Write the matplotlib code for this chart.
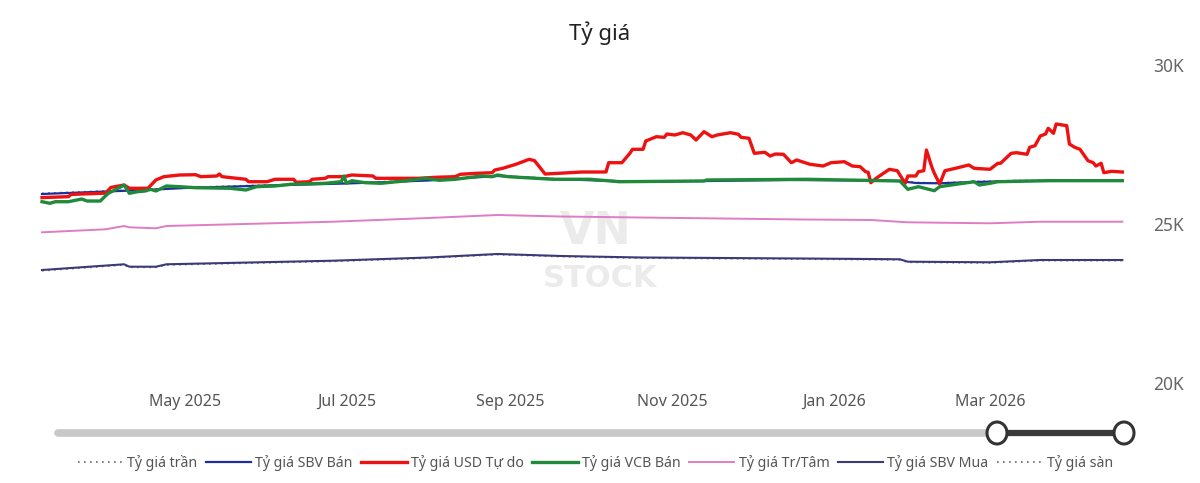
import matplotlib
matplotlib.use("Agg")
import matplotlib.pyplot as plt
from matplotlib.lines import Line2D
from matplotlib.patches import Ellipse
import pandas as pd

plt.rcParams['font.family'] = ['Noto Sans', 'DejaVu Sans']

# ---------------- data ----------------
usd_dates = ["2025-03-08","2025-03-18","2025-03-19","2025-04-01","2025-04-03","2025-04-08","2025-04-10","2025-04-17","2025-04-20","2025-04-23",
             "2025-04-29","2025-05-05","2025-05-07","2025-05-13","2025-05-14","2025-05-15","2025-05-18","2025-05-24","2025-05-25","2025-06-01",
             "2025-06-04","2025-06-11","2025-06-12","2025-06-17","2025-06-18","2025-06-23","2025-06-24","2025-06-30","2025-07-03","2025-07-11",
             "2025-07-12","2025-07-28","2025-08-04","2025-08-11","2025-08-13","2025-08-19","2025-08-25","2025-08-26","2025-08-29","2025-09-03",
             "2025-09-08","2025-09-10","2025-09-14","2025-09-19","2025-09-28","2025-10-07","2025-10-08","2025-10-13","2025-10-16","2025-10-17",
             "2025-10-21","2025-10-22","2025-10-26","2025-10-29","2025-10-30","2025-11-02","2025-11-05","2025-11-08","2025-11-10","2025-11-13",
             "2025-11-16","2025-11-18","2025-11-23","2025-11-26","2025-11-27","2025-11-30","2025-12-02","2025-12-06","2025-12-08","2025-12-10",
             "2025-12-13","2025-12-16","2025-12-18","2025-12-23","2025-12-28","2025-12-31","2026-01-05","2026-01-08","2026-01-11","2026-01-13",
             "2026-01-14","2026-01-15","2026-01-17","2026-01-22","2026-01-25","2026-01-26","2026-01-28","2026-01-29","2026-02-01","2026-02-02",
             "2026-02-04","2026-02-05","2026-02-07","2026-02-08","2026-02-10","2026-02-12","2026-02-16","2026-02-21","2026-02-23","2026-03-01",
             "2026-03-04","2026-03-05","2026-03-09","2026-03-11","2026-03-15","2026-03-16","2026-03-18","2026-03-20","2026-03-22","2026-03-23",
             "2026-03-25","2026-03-26","2026-03-30","2026-03-31","2026-04-02","2026-04-04","2026-04-07","2026-04-09","2026-04-10","2026-04-12",
             "2026-04-13","2026-04-16","2026-04-20"]
usd_values = [25830,25860,25930,25970,26150,26226,26123,26123,26384,26488,
              26541,26550,26488,26510,26572,26488,26460,26406,26330,26330,
              26406,26406,26311,26330,26406,26437,26488,26488,26541,26510,
              26437,26437,26469,26488,26563,26594,26613,26698,26752,26878,
              27035,26991,26572,26594,26635,26635,26928,26928,27223,27349,
              27349,27610,27745,27726,27830,27799,27871,27799,27642,27903,
              27745,27799,27871,27821,27726,27695,27223,27255,27138,27201,
              27192,26928,27013,26878,26824,26928,26959,26824,26802,26645,
              26626,26299,26437,26720,26676,26541,26280,26510,26510,26645,
              26676,27327,26802,26594,26258,26676,26752,26856,26752,26720,
              26909,26909,27223,27242,27192,27412,27462,27767,27830,28009,
              27852,28145,28091,27516,27412,27349,26991,26928,26824,26909,
              26613,26657,26635]

vcb_dates = ["2025-03-08","2025-03-11","2025-03-13","2025-03-18","2025-03-23","2025-03-25","2025-03-30","2025-04-02","2025-04-05","2025-04-08",
             "2025-04-10","2025-04-13","2025-04-16","2025-04-18","2025-04-20","2025-04-24","2025-04-29","2025-05-05","2025-05-18","2025-05-24",
             "2025-05-28","2025-06-04","2025-06-10","2025-06-23","2025-06-29","2025-06-30","2025-07-01","2025-07-03","2025-07-08","2025-07-14",
             "2025-07-24","2025-07-31","2025-08-05","2025-08-11","2025-08-21","2025-08-25","2025-08-27","2025-08-31","2025-09-17","2025-10-01",
             "2025-10-12","2025-11-13","2025-11-14","2025-12-22","2026-01-26","2026-01-29","2026-02-02","2026-02-08","2026-02-10","2026-02-23",
             "2026-02-25","2026-03-01","2026-03-04","2026-03-23","2026-04-20"]
vcb_values = [25701,25651,25701,25701,25786,25723,25723,25965,26091,26226,
              25965,26016,26038,26091,26038,26195,26173,26141,26123,26069,
              26173,26195,26249,26280,26330,26510,26280,26362,26299,26280,
              26362,26437,26374,26406,26510,26488,26541,26488,26406,26406,
              26330,26352,26384,26406,26352,26091,26173,26047,26173,26330,
              26226,26280,26330,26362,26362]

sbv_ban_dates = ["2025-03-08","2025-04-01","2025-04-16","2025-05-01","2025-06-01","2025-07-01","2025-08-01","2025-08-27","2025-09-17",
                 "2025-10-15","2025-11-15","2025-12-15","2026-01-15","2026-01-26","2026-02-01","2026-02-10","2026-02-23","2026-03-10","2026-04-20"]
sbv_ban_values = [25943,26022,26069,26132,26211,26274,26368,26510,26415,
                  26337,26352,26384,26368,26352,26289,26280,26321,26352,26362]
ceiling_values = [25965,26040,26085,26150,26228,26290,26384,26525,26430,
                  26352,26366,26398,26382,26366,26304,26295,26336,26366,26376]

central_dates = ["2025-03-08","2025-04-01","2025-04-08","2025-04-10","2025-04-20","2025-04-24","2025-06-26","2025-08-01","2025-08-27",
                 "2025-09-20","2025-10-20","2025-11-20","2025-12-20","2026-01-15","2026-01-29","2026-03-01","2026-03-20","2026-04-20"]
central_values = [24739,24833,24937,24896,24865,24937,25072,25189,25283,
                  25236,25204,25173,25142,25126,25053,25022,25072,25072]

sbv_mua_dates = ["2025-03-08","2025-04-08","2025-04-10","2025-04-20","2025-04-24","2025-06-26","2025-08-01","2025-08-27","2025-09-20",
                 "2025-10-20","2025-11-20","2025-12-20","2026-01-15","2026-01-26","2026-01-29","2026-03-01","2026-03-20","2026-04-20"]
sbv_mua_values = [23553,23733,23657,23657,23733,23846,23947,24057,23994,
                  23947,23931,23915,23899,23890,23815,23796,23868,23868]
floor_values = [23530,23712,23636,23636,23712,23826,23927,24037,23974,
                23927,23911,23895,23879,23870,23795,23776,23848,23848]

month_ticks = ["2025-05-01","2025-07-01","2025-09-01","2025-11-01","2026-01-01","2026-03-01"]
month_labels = ["May 2025","Jul 2025","Sep 2025","Nov 2025","Jan 2026","Mar 2026"]
y_ticks = [20000, 25000, 30000]
y_labels = ["20K", "25K", "30K"]

labels = ["Tỷ giá trần", "Tỷ giá SBV Bán", "Tỷ giá USD Tự do", "Tỷ giá VCB Bán",
          "Tỷ giá Tr/Tâm", "Tỷ giá SBV Mua", "Tỷ giá sàn"]

# ---------------- figure ----------------
fig = plt.figure(figsize=(12, 4.83), dpi=100)
ax = fig.add_axes([40/1200, 1-383/483, 1085/1200, 318/483])
ax.set_facecolor('none')

D = pd.to_datetime
dotted = (0, (1, 2.6))
h_ceil, = ax.plot(D(sbv_ban_dates), ceiling_values, color='#6a6a6a', lw=1.2, ls=dotted, zorder=2)
h_sbvb, = ax.plot(D(sbv_ban_dates), sbv_ban_values, color='#1c2f9c', lw=1.6, zorder=3)
h_usd, = ax.plot(D(usd_dates), usd_values, color='#ee1111', lw=2.4, zorder=4, solid_joinstyle='round')
h_vcb, = ax.plot(D(vcb_dates), vcb_values, color='#1e8a3a', lw=2.4, zorder=5, solid_joinstyle='round')
h_ctr, = ax.plot(D(central_dates), central_values, color='#e07cc3', lw=1.4, zorder=3)
h_sbvm, = ax.plot(D(sbv_mua_dates), sbv_mua_values, color='#3a3a78', lw=1.5, zorder=3)
h_floor, = ax.plot(D(sbv_mua_dates), floor_values, color='#6a6a6a', lw=1.2, ls=dotted, zorder=2)

origin = pd.Timestamp("2025-05-01")
ax.set_xlim(origin + pd.Timedelta(days=-54.76), origin + pd.Timedelta(days=355.0))
ax.set_ylim(20000, 30000)

ax.set_xticks(D(month_ticks))
ax.set_xticklabels(month_labels)
ax.set_yticks(y_ticks)
ax.set_yticklabels(y_labels)
ax.yaxis.tick_right()
ax.tick_params(axis='x', length=0, pad=8, labelsize=11.5, labelcolor='#555555')
ax.tick_params(axis='y', length=0, pad=20, labelsize=12.5, labelcolor='#666666')
for s in ax.spines.values():
    s.set_visible(False)

# faint watermark
ax.text(0.512, 0.475, "VN", transform=ax.transAxes, ha='center', va='center',
        fontsize=32, fontweight='bold', family='DejaVu Sans', color='#ebebeb', zorder=0)
ax.text(0.516, 0.33, "STOCK", transform=ax.transAxes, ha='center', va='center',
        fontsize=22, fontweight='bold', family='DejaVu Sans', color='#ebebeb', zorder=0)

# title
fig.text(0.5, 1-33/483, "Tỷ giá", ha='center', va='center', fontsize=16, color='#222222')

# legend
handles = [h_ceil, h_sbvb, h_usd, h_vcb, h_ctr, h_sbvm, h_floor]
leg = fig.legend(handles, labels, loc='center', bbox_to_anchor=(0.496, 1-463/483), ncol=7,
                 frameon=False, fontsize=10.2, handlelength=3.2, handletextpad=0.3,
                 columnspacing=0.6, labelcolor='#555555')

# zoom slider decoration
yS = 1-433/483
fig.add_artist(Line2D([58/1200, 997/1200], [yS, yS], transform=fig.transFigure,
                      color='#c8c8c8', lw=5.5, solid_capstyle='round', zorder=1))
fig.add_artist(Line2D([997/1200, 1124/1200], [yS, yS], transform=fig.transFigure,
                      color='#3a3a3a', lw=4.5, zorder=2))
for xc in (997, 1124):
    fig.add_artist(Ellipse((xc/1200, yS), 20/1200, 22/483, transform=fig.transFigure,
                           facecolor='white', edgecolor='#333333', lw=2.2, zorder=3))

fig.savefig("out.png", dpi=100)
